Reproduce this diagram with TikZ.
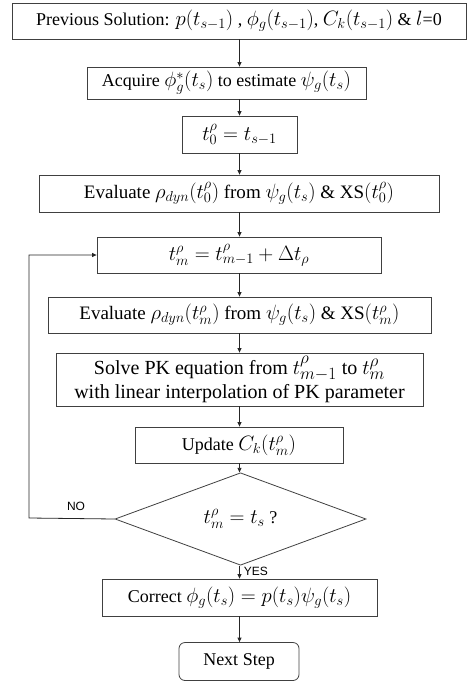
\documentclass[tikz,border=0pt]{standalone}
\usepackage{fontspec}
\setmainfont{Liberation Serif}
\newfontfamily\lblfont{Liberation Sans}
\DeclareMathSizes{18}{20.5}{15}{12}
\DeclareMathSizes{19}{21.5}{15.5}{12.5}
\DeclareMathSizes{20}{22}{16}{13}
\usetikzlibrary{shapes.geometric,arrows.meta}
\begin{document}
\begin{tikzpicture}[x=1pt,y=-1pt,
  box/.style={draw=black!75,line width=0.8pt,rectangle,inner sep=0pt,align=center,font=\fontsize{18}{21}\selectfont},
  dia/.style={draw=black!75,line width=0.8pt,diamond,inner sep=0pt,font=\fontsize{18}{21}\selectfont},
  arr/.style={draw=black!85,line width=0.8pt,-{Triangle[length=4.5pt,width=4pt]}},
  lbl/.style={font=\lblfont\fontsize{12}{14}\selectfont,inner sep=0pt}]
\useasboundingbox (0,0) rectangle (467,682);
\node[box,minimum width=454pt,minimum height=36pt] (b1) at (239,21) {Previous Solution: $p(t_{s-1})$ , $\phi_g(t_{s-1})$, $C_k(t_{s-1})$ \& $l$=0};
\node[box,minimum width=279pt,minimum height=32pt] (b2) at (226.5,83) {Acquire $\phi_g^{*}(t_s)$ to estimate $\psi_g(t_s)$};
\node[box,minimum width=115pt,minimum height=37pt] (b3) at (239.5,134.5) {$t_0^{\rho}=t_{s-1}$};
\node[box,minimum width=400pt,minimum height=37pt,font=\fontsize{19}{22}\selectfont] (b4) at (239,193.5) {Evaluate $\rho_{dyn}(t_0^{\rho})$ from $\psi_g(t_s)$ \& XS$(t_0^{\rho})$};
\node[box,minimum width=284pt,minimum height=36pt] (b5) at (239,255) {$t_m^{\rho}=t_{m-1}^{\rho}+\Delta t_{\rho}$};
\node[box,minimum width=383pt,minimum height=36pt,font=\fontsize{19}{22}\selectfont] (b6) at (239.5,315) {Evaluate $\rho_{dyn}(t_m^{\rho})$ from $\psi_g(t_s)$ \& XS$(t_m^{\rho})$};
\node[box,minimum width=367pt,minimum height=53pt,font=\fontsize{20}{24}\selectfont] (b7) at (239.5,379.5) {Solve PK equation from $t_{m-1}^{\rho}$ to $t_m^{\rho}$\\ with linear interpolation of PK parameter};
\node[box,minimum width=208pt,minimum height=36pt] (b8) at (239,445) {Update $C_k(t_m^{\rho})$};
\node[dia,minimum width=251pt,minimum height=72pt] (d) at (240.5,519) {$t_m^{\rho}=t_s$ ?};
\node[box,minimum width=275pt,minimum height=37pt] (b9) at (239.5,597.5) {Correct $\phi_g(t_s)=p(t_s)\psi_g(t_s)$};
\node[box,rounded corners=6pt,minimum width=120pt,minimum height=38pt] (b10) at (239,661.5) {Next Step};
\coordinate (lx) at (29,518);
\draw[arr] (b1.south -| b3.center) -- (b2.north -| b3.center);
\draw[arr] (b2.south -| b3.center) -- (b3.north);
\draw[arr] (b3.south) -- (b4.north -| b3.center);
\draw[arr] (b4.south -| b3.center) -- (b5.north -| b3.center);
\draw[arr] (b5.south -| b3.center) -- (b6.north -| b3.center);
\draw[arr] (b6.south -| b3.center) -- (b7.north -| b3.center);
\draw[arr] (b7.south -| b3.center) -- (b8.north -| b3.center);
\draw[arr] (b8.south -| b3.center) -- (d.north -| b3.center);
\draw[arr] (d.south -| b3.center) -- node[lbl,right=4pt,pos=0.45] {YES} (b9.north -| b3.center);
\draw[arr] (b9.south -| b3.center) -- (b10.north -| b3.center);
\draw[arr] (d.west) -- (lx) -- (lx |- b5.west) -- (b5.west);
\node[lbl] (no) at (76,506) {NO};
\end{tikzpicture}
\end{document}
